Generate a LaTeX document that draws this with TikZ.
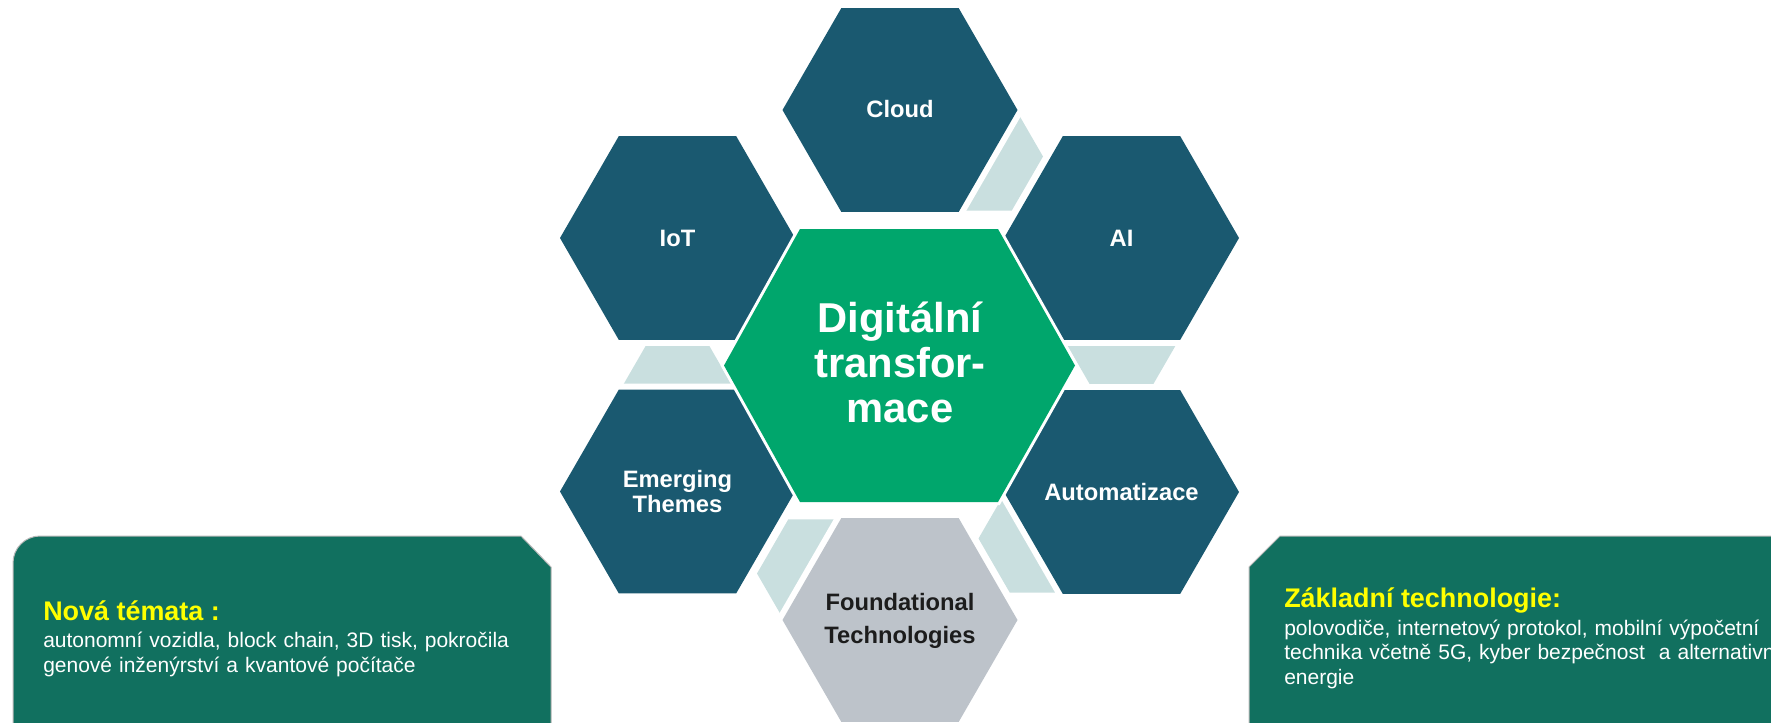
\documentclass[tikz,border=0pt]{standalone}
\usepackage{fontspec}
\setmainfont{Liberation Sans}
\definecolor{hexblue}{HTML}{1A5970}
\definecolor{hexgreen}{HTML}{00A66C}
\definecolor{hexlight}{HTML}{C9DFDF}
\definecolor{hexgray}{HTML}{BDC3CA}
\definecolor{boxgreen}{HTML}{11705F}
\definecolor{titleyellow}{HTML}{FFFF00}
\definecolor{darktext}{HTML}{1C1C1C}
\newcommand{\HexP}[3]{(-#1,0) -- (-#2,-#3) -- (#2,-#3) -- (#1,0) -- (#2,#3) -- (-#2,#3) -- cycle}
\begin{document}
\begin{tikzpicture}[x=0.75pt,y=-0.75pt,
  lighthex/.style={fill=hexlight},
  whiteedge/.style={draw=white, line width=9pt, line join=miter},
  bluehex/.style={fill=hexblue},
  grayhex/.style={fill=hexgray},
  hexlabel/.style={inner sep=0pt, align=center, text=white,
    font=\fontsize{17.8}{18.75}\selectfont\bfseries},
  boxshape/.style={fill=boxgreen, draw=gray!55, line width=0.75pt},
  boxtitle/.style={inner sep=0pt, anchor=base west, text=titleyellow,
    font=\fontsize{20.2}{24}\selectfont\bfseries},
  boxbody/.style={inner sep=0pt, anchor=base west, text=white, align=left,
    text width=560pt}]
\useasboundingbox (0,0) rectangle (1771,722);
\clip (0,0) rectangle (1771,722);

% bottom boxes
\path[boxshape] (13,740) -- (13,563) .. controls (13,548.1) and (25.1,536) .. (40,536)
  -- (521,536) -- (551,567) -- (551,740);
\path[boxshape] (1249,740) -- (1249,567) -- (1280,536) -- (1790,536) -- (1790,740);

% light connector pieces
\foreach \cx/\cy in {980.5/156.5, 1121.5/331, 1041/538.5, 819.5/573.5, 677.5/399}
  \path[lighthex, shift={(\cx,\cy)}] \HexP{62.5}{31.25}{54.1};

% white gaps round outer hexagons
\foreach \cx/\cy in {900/110, 1121.5/238, 1121.5/492, 900/620, 677.5/491.5, 677.5/238}
  \path[whiteedge, shift={(\cx,\cy)}] \HexP{117.5}{58.75}{101.8};

% outer hexagons
\foreach \cx/\cy in {900/110, 1121.5/238, 1121.5/492, 677.5/491.5, 677.5/238}
  \path[bluehex, shift={(\cx,\cy)}] \HexP{117.5}{58.75}{101.8};
\path[grayhex, shift={(900,620)}] \HexP{117.5}{58.75}{101.8};

% centre hexagon
\path[draw=white, line width=4.5pt, line join=miter]
  (724,365.5) -- (800,229) -- (998,229) -- (1075,365.5) -- (998,502) -- (800,502) -- cycle;
\path[fill=hexgreen]
  (724,365.5) -- (800,229) -- (998,229) -- (1075,365.5) -- (998,502) -- (800,502) -- cycle;

% labels
\node[hexlabel] (cloud) at (900,109) {Cloud};
\node[hexlabel] (ai) at (1121.5,238) {AI};
\node[hexlabel] (iot) at (677.5,238) {IoT};
\node[hexlabel] (auto) at (1121.5,492) {Automatizace};
\node[hexlabel] (emerg) at (677.5,491.5) {Emerging\\Themes};
\node[hexlabel, text=darktext, font=\fontsize{17.8}{24.75}\selectfont\bfseries]
  (found) at (900,621) {Foundational\\Technologies};
\node[hexlabel, font=\fontsize{31.3}{33.75}\selectfont\bfseries]
  (digital) at (900,362.5) {Digitální\\transfor-\\mace};

% box texts
\node[boxtitle] (ntitle) at (43,620) {Nová témata :};
\node[boxbody, font=\fontsize{15.75}{18.75}\selectfont] (nbody) at (43,647)
  {autonomní vozidla, block chain, 3D tisk, pokročila\\genové inženýrství a kvantové počítače};
\node[boxtitle] (ztitle) at (1284,607) {Základní technologie:};
\node[boxbody, font=\fontsize{15.75}{18.5}\selectfont] (zbody) at (1284,635)
  {polovodiče, internetový protokol, mobilní výpočetní\\technika včetně 5G, kyber bezpečnost~ a alternativní\\energie};
\end{tikzpicture}
\end{document}
